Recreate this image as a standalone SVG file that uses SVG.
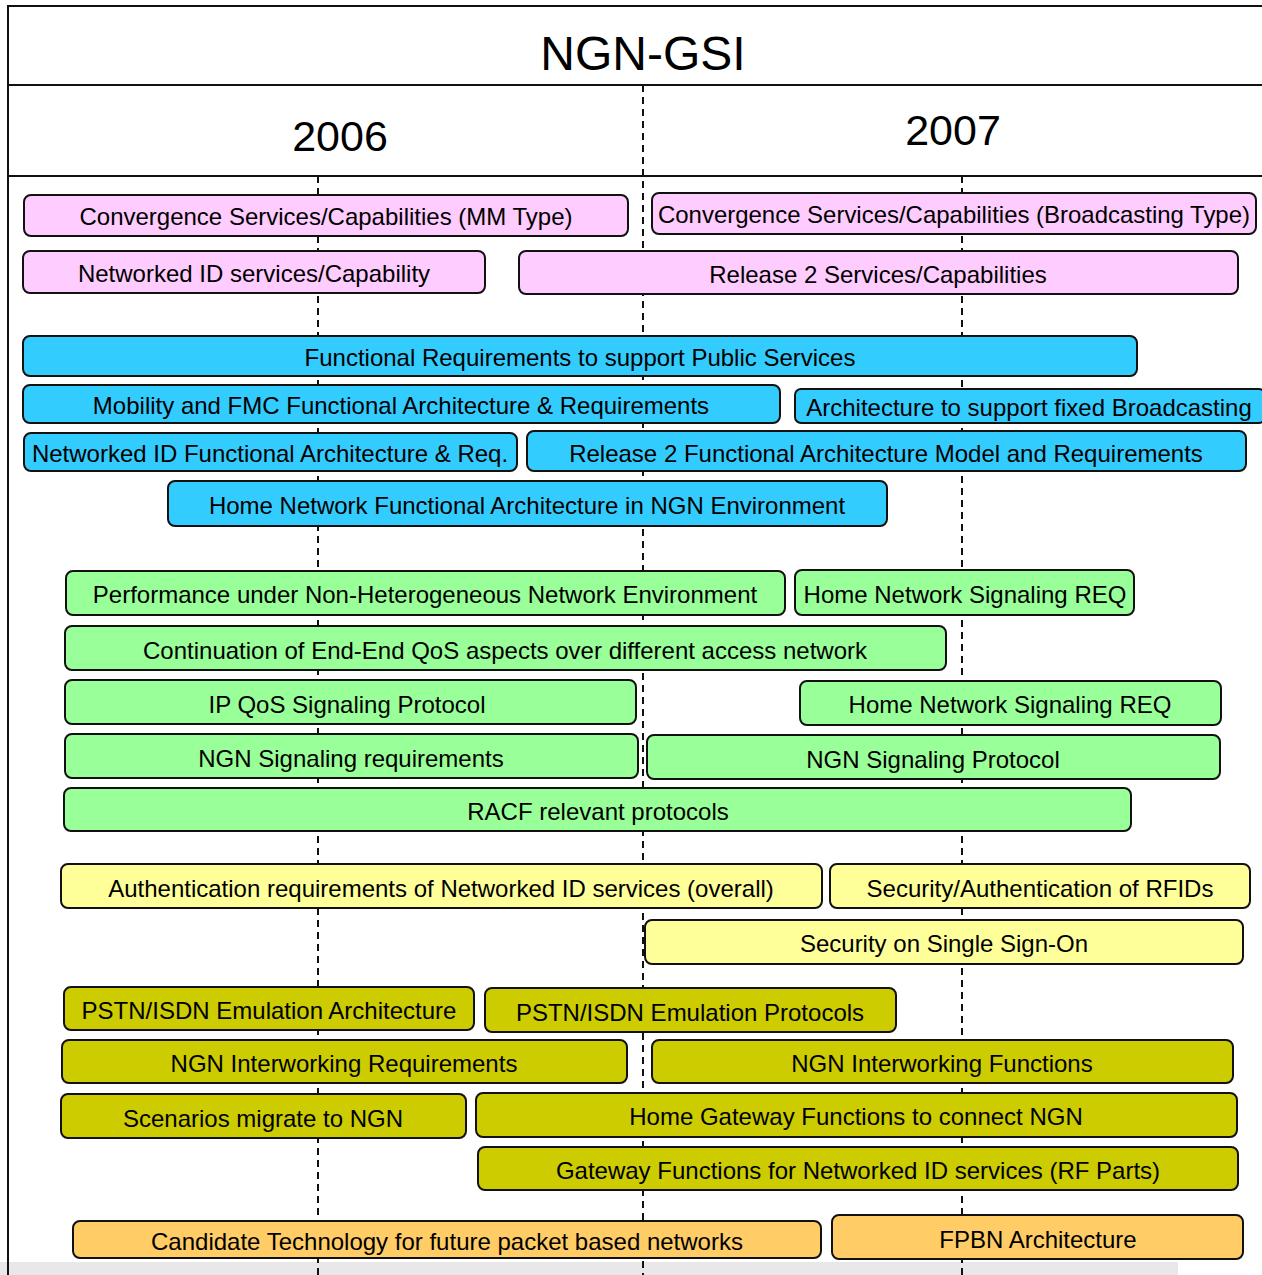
<svg xmlns="http://www.w3.org/2000/svg" width="1262" height="1275" viewBox="0 0 1262 1275">
<style>
.bx{stroke:#111;stroke-width:2}
.pk{fill:#ffccff}.bl{fill:#33ccff}.gr{fill:#99ff99}.ly{fill:#ffff99}.ol{fill:#cccc00}.or{fill:#ffcc66}
text{font-family:"Liberation Sans",Arial,sans-serif;fill:#000;text-anchor:middle}
.t{font-size:24px;dominant-baseline:central}
.dash{stroke:#111;stroke-width:2;stroke-dasharray:7,5;fill:none}
.frame{stroke:#111;stroke-width:2;fill:none}
</style>
<rect x="0" y="0" width="1262" height="1275" fill="#fff"/>
<rect x="0" y="1262" width="1178" height="13" fill="#e8e8e8"/>
<g id="frame">
<path class="frame" d="M8,1275 V6 H1262"/>
<path class="frame" d="M9,85 H1262"/>
<path class="frame" d="M9,176 H1262"/>
<text x="643" y="70" font-size="48">NGN-GSI</text>
<text x="340" y="151" font-size="43">2006</text>
<text x="953" y="145" font-size="43">2007</text>
</g>
<g id="connectors">
<path class="dash" d="M318,176 V1275"/>
<path class="dash" d="M643,85 V1275"/>
<path class="dash" d="M962,176 V1275"/>
</g>
<g id="n1"><rect class="bx pk" x="24" y="195" width="604" height="41" rx="7"/><text class="t" x="326" y="216">Convergence Services/Capabilities (MM Type)</text></g>
<g id="n2"><rect class="bx pk" x="652" y="193" width="604" height="41" rx="7"/><text class="t" x="954" y="214" textLength="592" lengthAdjust="spacingAndGlyphs">Convergence Services/Capabilities (Broadcasting Type)</text></g>
<g id="n3"><rect class="bx pk" x="23" y="251" width="462" height="42" rx="7"/><text class="t" x="254" y="273">Networked ID services/Capability</text></g>
<g id="n4"><rect class="bx pk" x="519" y="251" width="719" height="43" rx="7"/><text class="t" x="878" y="274">Release 2 Services/Capabilities</text></g>
<g id="n5"><rect class="bx bl" x="23" y="336" width="1114" height="40" rx="7"/><text class="t" x="580" y="357">Functional Requirements to support Public Services</text></g>
<g id="n6"><rect class="bx bl" x="23" y="385" width="757" height="38" rx="7"/><text class="t" x="401" y="405">Mobility and FMC Functional Architecture &amp; Requirements</text></g>
<g id="n7"><rect class="bx bl" x="795" y="389" width="470" height="34" rx="6"/><text class="t" x="1029" y="407">Architecture to support fixed Broadcasting</text></g>
<g id="n8"><rect class="bx bl" x="24" y="433" width="493" height="38" rx="7"/><text class="t" x="270" y="453">Networked ID Functional Architecture &amp; Req.</text></g>
<g id="n9"><rect class="bx bl" x="527" y="431" width="719" height="40" rx="7"/><text class="t" x="886" y="453">Release 2 Functional Architecture Model and Requirements</text></g>
<g id="n10"><rect class="bx bl" x="168" y="481" width="719" height="45" rx="7"/><text class="t" x="527" y="505">Home Network Functional Architecture in NGN Environment</text></g>
<g id="n11"><rect class="bx gr" x="66" y="571" width="719" height="44" rx="7"/><text class="t" x="425" y="594">Performance under Non-Heterogeneous Network Environment</text></g>
<g id="n12"><rect class="bx gr" x="795" y="570" width="339" height="45" rx="7"/><text class="t" x="965" y="594">Home Network Signaling REQ</text></g>
<g id="n13"><rect class="bx gr" x="65" y="626" width="881" height="44" rx="7"/><text class="t" x="505" y="650">Continuation of End-End QoS aspects over different access network</text></g>
<g id="n14"><rect class="bx gr" x="65" y="680" width="571" height="44" rx="7"/><text class="t" x="347" y="704">IP QoS Signaling Protocol</text></g>
<g id="n15"><rect class="bx gr" x="800" y="681" width="421" height="44" rx="7"/><text class="t" x="1010" y="704">Home Network Signaling REQ</text></g>
<g id="n16"><rect class="bx gr" x="65" y="734" width="573" height="44" rx="7"/><text class="t" x="351" y="758">NGN Signaling requirements</text></g>
<g id="n17"><rect class="bx gr" x="647" y="735" width="573" height="44" rx="7"/><text class="t" x="933" y="759">NGN Signaling Protocol</text></g>
<g id="n18"><rect class="bx gr" x="64" y="788" width="1067" height="43" rx="7"/><text class="t" x="598" y="811">RACF relevant protocols</text></g>
<g id="n19"><rect class="bx ly" x="61" y="864" width="761" height="44" rx="7"/><text class="t" x="441" y="888">Authentication requirements of Networked ID services (overall)</text></g>
<g id="n20"><rect class="bx ly" x="830" y="864" width="420" height="44" rx="7"/><text class="t" x="1040" y="888">Security/Authentication of RFIDs</text></g>
<g id="n21"><rect class="bx ly" x="645" y="920" width="598" height="44" rx="7"/><text class="t" x="944" y="943">Security on Single Sign-On</text></g>
<g id="n22"><rect class="bx ol" x="64" y="987" width="410" height="43" rx="7"/><text class="t" x="269" y="1010">PSTN/ISDN Emulation Architecture</text></g>
<g id="n23"><rect class="bx ol" x="485" y="988" width="411" height="44" rx="7"/><text class="t" x="690" y="1012">PSTN/ISDN Emulation Protocols</text></g>
<g id="n24"><rect class="bx ol" x="62" y="1040" width="565" height="43" rx="7"/><text class="t" x="344" y="1063">NGN Interworking Requirements</text></g>
<g id="n25"><rect class="bx ol" x="652" y="1040" width="581" height="43" rx="7"/><text class="t" x="942" y="1063">NGN Interworking Functions</text></g>
<g id="n26"><rect class="bx ol" x="61" y="1094" width="405" height="44" rx="7"/><text class="t" x="263" y="1118">Scenarios migrate to NGN</text></g>
<g id="n27"><rect class="bx ol" x="476" y="1093" width="761" height="44" rx="7"/><text class="t" x="856" y="1116">Home Gateway Functions to connect NGN</text></g>
<g id="n28"><rect class="bx ol" x="478" y="1147" width="760" height="43" rx="7"/><text class="t" x="858" y="1170">Gateway Functions for Networked ID services (RF Parts)</text></g>
<g id="n29"><rect class="bx or" x="73" y="1221" width="748" height="37" rx="7"/><text class="t" x="447" y="1241">Candidate Technology for future packet based networks</text></g>
<g id="n30"><rect class="bx or" x="832" y="1215" width="411" height="44" rx="7"/><text class="t" x="1038" y="1239">FPBN Architecture</text></g>
</svg>
